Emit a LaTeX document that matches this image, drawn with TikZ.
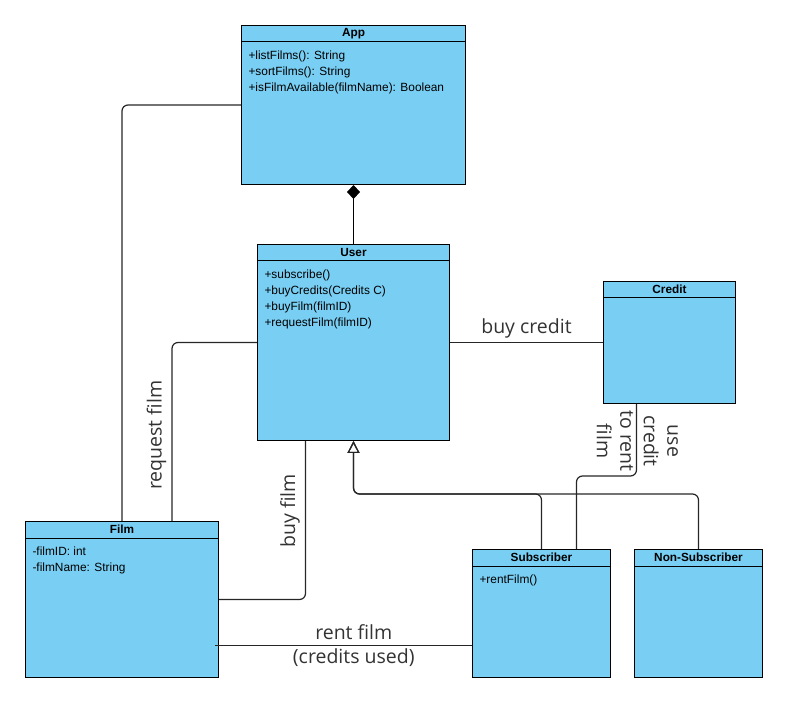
\documentclass[tikz,border=0pt]{standalone}
\usepackage{fontspec}
\setmainfont{Liberation Sans}
\newfontfamily\labelfont{Open Sans}
\usetikzlibrary{arrows.meta}
\definecolor{classblue}{RGB}{121,206,243}
\definecolor{labelgray}{RGB}{51,51,51}

\begin{document}
\begin{tikzpicture}[x=1pt, y=-1pt, line width=1pt,
    umlclass/.style={draw, fill=classblue, anchor=north west, inner sep=0pt},
    classtitle/.style={font=\fontsize{11.8}{13}\selectfont\bfseries},
    members/.style={font=\fontsize{11.9}{16}\selectfont, align=left, anchor=north west, inner sep=0pt},
    assoc/.style={draw=black!85, line width=1.2pt, rounded corners=6pt},
    lbl/.style={font=\labelfont\fontsize{19.5}{23.5}\selectfont, text=labelgray, align=center}]
    \useasboundingbox (0,0) rectangle (796,711);

    % classes
    \node[umlclass, minimum width=224pt, minimum height=159pt] (app) at (241,25) {};
    \node[umlclass, minimum width=192pt, minimum height=196pt] (user) at (257,244) {};
    \node[umlclass, minimum width=132pt, minimum height=122pt] (credit) at (603,281) {};
    \node[umlclass, minimum width=193pt, minimum height=156pt] (film) at (25,521) {};
    \node[umlclass, minimum width=138pt, minimum height=128pt] (subscriber) at (472,549) {};
    \node[umlclass, minimum width=128pt, minimum height=128pt] (nonsub) at (634,549) {};

    \foreach \c in {app,user,credit,film,subscriber,nonsub}
      \draw ([yshift=-17pt]\c.north west) -- ([yshift=-17pt]\c.north east);

    \node[classtitle] (apptitle) at ([yshift=-8.5pt]app.north) {App};
    \node[classtitle] (usertitle) at ([yshift=-8.5pt]user.north) {User};
    \node[classtitle] (credittitle) at ([yshift=-8.5pt]credit.north) {Credit};
    \node[classtitle] (filmtitle) at ([yshift=-8.5pt]film.north) {Film};
    \node[classtitle] (subscribertitle) at ([yshift=-8.5pt]subscriber.north) {Subscriber};
    \node[classtitle] (nonsubtitle) at ([yshift=-8.5pt]nonsub.north) {Non-Subscriber};

    \node[members] (appops) at ([xshift=7pt, yshift=-25.5pt]app.north west)
      {+listFilms(): String\\+sortFilms(): String\\+isFilmAvailable(filmName): Boolean};
    \node[members] (userops) at ([xshift=7pt, yshift=-25.5pt]user.north west)
      {+subscribe()\\+buyCredits(Credits C)\\+buyFilm(filmID)\\+requestFilm(filmID)};
    \node[members] (filmattrs) at ([xshift=7pt, yshift=-25.5pt]film.north west)
      {-filmID: int\\-filmName: String};
    \node[members] (subscriberops) at ([xshift=7pt, yshift=-25.5pt]subscriber.north west)
      {+rentFilm()};

    % connectors
    \draw[line width=1.2pt, -{Diamond[length=14pt, width=13pt]}] (user.north) -- (app.south);
    \draw[assoc] (app.west) -| (film.north);
    \draw[assoc] (user.west) -| ([xshift=50pt]film.north)
      node[lbl, pos=0.76, rotate=90, anchor=south, inner sep=5pt] (reqlbl) {request film};
    \draw[assoc] ([xshift=-48pt]user.south) |- (film.east)
      node[lbl, pos=0.22, rotate=90, anchor=south, inner sep=5pt] (buylbl) {buy film};
    \draw[assoc] (user.east) -- (credit.west)
      node[lbl, midway, above, inner sep=4pt] (creditlbl) {buy credit};
    \draw[assoc] ([xshift=-33pt]credit.south) -- ++(0,72) -| ([xshift=35pt]subscriber.north);
    \node[lbl, rotate=-90] (uselbl) at ([xshift=-32pt, yshift=-37pt]credit.south) {use\\credit\\to rent\\film};
    \draw[assoc, -{Triangle[open, length=12pt, width=12pt]}] (subscriber.north) -- ++(0,-55) -| (user.south);
    \draw[assoc, -{Triangle[open, length=12pt, width=12pt]}] (nonsub.north) -- ++(0,-55) -| (user.south);
    \coordinate (rentend) at ([yshift=-32pt]subscriber.west);
    \draw[assoc] ([xshift=-4pt]film.east |- rentend) -- (rentend)
      node[lbl, pos=0.54] (rentlbl) {rent film\\(credits used)};
  \end{tikzpicture}
\end{document}
